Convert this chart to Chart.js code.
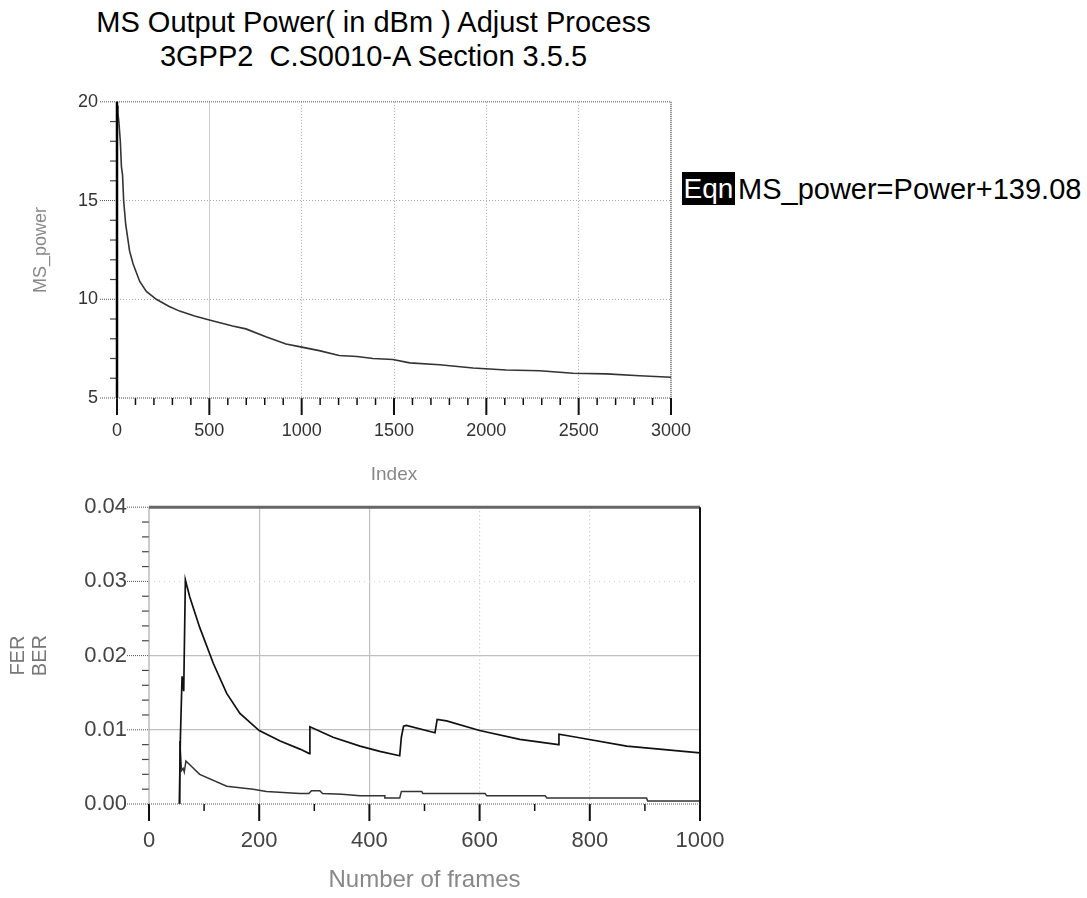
<!DOCTYPE html>
<html>
<head>
<meta charset="utf-8">
<script src="https://cdn.jsdelivr.net/npm/chart.js@4.4.1/dist/chart.umd.min.js"></script>
<style>
  body { margin: 0; background: #fff; width: 1087px; height: 898px; position: relative; overflow: hidden;
         font-family: 'Liberation Sans', Arial, sans-serif; }
  .t { position: absolute; left: 0; width: 747px; text-align: center; font-size: 29px; line-height: 29px;
       color: #000; white-space: pre; }
  canvas { position: absolute; left: 0; }
  #eqnBox { position: absolute; left: 682px; top: 172px; width: 53px; height: 33px; background: #000;
            color: #fff; font-size: 28px; line-height: 33px; text-align: center; }
  #eqnText { position: absolute; left: 738px; top: 175px; font-size: 29px; line-height: 29px; color: #000; white-space: pre; }
</style>
</head>
<body>
<div class="t" style="top:8px">MS Output Power( in dBm ) Adjust Process</div>
<div class="t" style="top:42px">3GPP2  C.S0010-A Section 3.5.5</div>
<div id="eqnBox">Eqn</div>
<div id="eqnText">MS_power=Power+139.08</div>
<canvas id="powerChart" width="720" height="428" style="top:72px"></canvas>
<canvas id="ferChart" width="760" height="426" style="top:472px"></canvas>
<script>
(() => {
  'use strict'

  // MS output power vs index (top plot)
  const powerIndex = [0, 5, 10, 18, 24, 30, 36, 47, 68, 87, 123, 159, 213, 280, 339, 420, 500, 626, 698, 806,
    915, 987, 1095, 1203, 1300, 1386, 1494, 1585, 1747, 1928, 2108, 2289, 2469, 2650, 2830, 3000];
  const powerValues = [19.8, 19.4, 19.0, 18.0, 16.7, 16.3, 15.0, 13.8, 12.45, 11.8, 10.9, 10.4, 10.0, 9.65, 9.4,
    9.15, 8.95, 8.65, 8.5, 8.1, 7.73, 7.6, 7.4, 7.15, 7.1, 7.0, 6.95, 6.78, 6.68, 6.52, 6.42, 6.38, 6.25, 6.22, 6.13, 6.05];

  // FER vs number of frames (bottom plot)
  const ferFrames = [55, 57, 60, 63, 66, 74, 92, 117, 141, 165, 200, 238, 274, 291, 292, 334, 383, 419, 455, 458,
    462, 467, 519, 523, 540, 600, 673, 743, 744, 776, 867, 1000];
  const ferValues = [0, 0.0090, 0.0172, 0.0152, 0.0302, 0.0279, 0.0238, 0.0189, 0.0149, 0.0122, 0.0099, 0.0085,
    0.0074, 0.0068, 0.0104, 0.0090, 0.0078, 0.0071, 0.0065, 0.0090, 0.0105, 0.0106, 0.0096, 0.0114, 0.0112,
    0.0099, 0.0087, 0.0080, 0.0094, 0.0090, 0.0078, 0.0069];

  // BER vs number of frames
  const berFrames = [55, 56, 59, 62, 64, 67, 92, 141, 189, 213, 274, 290, 295, 310, 315, 350, 383, 428, 428, 455,
    458, 495, 497, 610, 613, 719, 722, 903, 905, 1000];
  const berValues = [0, 0.0085, 0.0045, 0.0048, 0.0043, 0.0058, 0.0040, 0.0024, 0.0020, 0.0017, 0.0014, 0.0014,
    0.0018, 0.0018, 0.0014, 0.0013, 0.0011, 0.0011, 0.0008, 0.0008, 0.0017, 0.0017, 0.0014, 0.0014, 0.0011,
    0.0011, 0.0008, 0.0008, 0.0004, 0.0004];

  // tick labels
  const powerXTicks = [0, 500, 1000, 1500, 2000, 2500, 3000];
  const powerYTicks = [5, 10, 15, 20];
  const frameXTicks = [0, 200, 400, 600, 800, 1000];
  const ferYTicks = ['0.00', '0.01', '0.02', '0.03', '0.04'];

  const FONT = "'Liberation Sans', Arial, sans-serif";
  const toPoints = (xs, ys) => xs.map((x, i) => ({ x: x, y: ys[i] }));
  const near = (a, b) => Math.abs(a - b) < 1e-9;

  // minor/major tick marks and frame around the plot area
  const axisMarks = {
    id: 'axisMarks',
    afterDatasetsDraw(chart, args, o) {
      const { ctx, chartArea: a, scales: { x, y } } = chart;
      ctx.save();
      const nx = Math.round((x.max - x.min) / o.xMinor);
      for (let i = 0; i <= nx; i++) {
        const v = x.min + i * o.xMinor;
        const px = x.getPixelForValue(v);
        const major = near(v / o.xMajor, Math.round(v / o.xMajor));
        ctx.strokeStyle = '#111';
        ctx.lineWidth = major ? 2 : 1.5;
        ctx.setLineDash([]);
        ctx.beginPath();
        ctx.moveTo(px, a.bottom);
        ctx.lineTo(px, a.bottom + (major ? 17 : 7));
        ctx.stroke();
      }
      const ny = Math.round((y.max - y.min) / o.yMinor);
      for (let i = 0; i <= ny; i++) {
        const v = y.min + i * o.yMinor;
        const py = y.getPixelForValue(v);
        const major = near(v / o.yMajor, Math.round(v / o.yMajor));
        ctx.beginPath();
        if (major) {
          ctx.strokeStyle = '#555';
          ctx.lineWidth = 1;
          ctx.setLineDash([1, 1]);
          ctx.moveTo(a.left - o.yMajorLen, py);
        } else {
          ctx.strokeStyle = '#444';
          ctx.lineWidth = 1.2;
          ctx.setLineDash([]);
          ctx.moveTo(a.left - 7, py);
        }
        ctx.lineTo(a.left, py);
        ctx.stroke();
      }
      const sides = {
        top: [a.left, a.top, a.right, a.top],
        bottom: [a.left, a.bottom, a.right, a.bottom],
        left: [a.left, a.top, a.left, a.bottom],
        right: [a.right, a.top, a.right, a.bottom]
      };
      o.frame.forEach(f => {
        const s = sides[f.side];
        ctx.strokeStyle = f.color;
        ctx.lineWidth = f.width;
        ctx.setLineDash(f.dash || []);
        ctx.beginPath();
        ctx.moveTo(s[0], s[1]);
        ctx.lineTo(s[2], s[3]);
        ctx.stroke();
      });
      ctx.restore();
    }
  };

  // top plot
  new Chart(document.getElementById('powerChart'), {
    type: 'line',
    data: {
      datasets: [{
        label: 'MS_power',
        data: toPoints(powerIndex, powerValues),
        borderColor: '#333',
        borderWidth: 1.6,
        pointRadius: 0,
        tension: 0
      }]
    },
    options: {
      responsive: false,
      animation: false,
      devicePixelRatio: 1,
      layout: { padding: { top: 0, right: 49, left: 0, bottom: 0 } },
      plugins: {
        legend: { display: false },
        tooltip: { enabled: false },
        axisMarks: {
          xMinor: 100, xMajor: 500, yMinor: 1, yMajor: 5, yMajorLen: 17,
          frame: [
            { side: 'top', color: '#555', width: 1, dash: [1, 1] },
            { side: 'right', color: '#555', width: 1.5, dash: [1, 1] },
            { side: 'bottom', color: '#444', width: 1, dash: [1, 1] },
            { side: 'left', color: '#000', width: 2.5 }
          ]
        }
      },
      scales: {
        x: {
          type: 'linear',
          min: 0, max: 3000,
          afterFit: s => { s.height = 102; },
          afterBuildTicks: s => { s.ticks = powerXTicks.map(v => ({ value: v })); },
          ticks: { color: '#333', padding: 22, maxRotation: 0, autoSkip: false,
                   font: { family: FONT, size: 18 }, callback: v => String(v) },
          grid: {
            drawTicks: false,
            color: c => (c.tick && (c.tick.value === 0 || c.tick.value === 3000)) ? 'rgba(0,0,0,0)'
              : (c.tick && c.tick.value === 500 ? '#cfcfcf' : '#a8a8a8'),
            lineWidth: 1
          },
          border: { display: false, dash: c => (c.tick && c.tick.value === 500) ? [] : [1, 2] },
          title: { display: true, text: 'Index', color: '#888', font: { family: FONT, size: 19 },
                   padding: { top: 0, bottom: 14 } }
        },
        y: {
          min: 5, max: 20,
          afterFit: s => { s.width = 117; },
          afterBuildTicks: s => { s.ticks = powerYTicks.map(v => ({ value: v })); },
          ticks: { color: '#333', padding: 19, font: { family: FONT, size: 18 }, callback: v => String(v) },
          grid: {
            drawTicks: false,
            color: c => (c.tick && (c.tick.value === 5 || c.tick.value === 20)) ? 'rgba(0,0,0,0)' : '#a8a8a8',
            lineWidth: 1
          },
          border: { display: false, dash: [1, 2] },
          title: { display: true, text: 'MS_power', color: '#888', font: { family: FONT, size: 18 },
                   padding: { top: 30, bottom: 0 } }
        }
      }
    },
    plugins: [axisMarks]
  });

  // bottom plot
  new Chart(document.getElementById('ferChart'), {
    type: 'line',
    data: {
      datasets: [{
        label: 'FER',
        data: toPoints(ferFrames, ferValues),
        borderColor: '#111',
        borderWidth: 1.7,
        pointRadius: 0,
        tension: 0
      }, {
        label: 'BER',
        data: toPoints(berFrames, berValues),
        borderColor: '#333',
        borderWidth: 1.5,
        pointRadius: 0,
        tension: 0
      }]
    },
    options: {
      responsive: false,
      animation: false,
      devicePixelRatio: 1,
      layout: { padding: { top: 0, right: 60, left: 0, bottom: 0 } },
      plugins: {
        legend: { display: false },
        tooltip: { enabled: false },
        axisMarks: {
          xMinor: 100, xMajor: 200, yMinor: 0.002, yMajor: 0.01, yMajorLen: 22,
          frame: [
            { side: 'left', color: '#999', width: 1 },
            { side: 'bottom', color: '#555', width: 1, dash: [1, 1] },
            { side: 'top', color: '#666', width: 3 },
            { side: 'right', color: '#111', width: 2 }
          ]
        }
      },
      scales: {
        x: {
          type: 'linear',
          min: 0, max: 1000,
          afterFit: s => { s.height = 94; },
          afterBuildTicks: s => { s.ticks = frameXTicks.map(v => ({ value: v })); },
          ticks: { color: '#444', padding: 24, maxRotation: 0, autoSkip: false,
                   font: { family: FONT, size: 22 }, callback: v => String(v) },
          grid: {
            drawTicks: false,
            color: c => (c.tick && (c.tick.value === 0 || c.tick.value === 1000)) ? 'rgba(0,0,0,0)' : '#c0c0c0',
            lineWidth: 1.2
          },
          border: { display: false, dash: c => (c.tick && c.tick.value >= 600) ? [1, 3] : [] },
          title: { display: true, text: 'Number of frames', color: '#888', font: { family: FONT, size: 24 },
                   padding: { top: 0, bottom: 3 } }
        },
        y: {
          min: 0, max: 0.04,
          afterFit: s => { s.width = 149; },
          afterBuildTicks: s => { s.ticks = ferYTicks.map(v => ({ value: Number(v) })); },
          ticks: { color: '#444', padding: 22, font: { family: FONT, size: 22 },
                   callback: (v, i) => ferYTicks[i] },
          grid: {
            drawTicks: false,
            color: c => {
              const k = c.tick ? Math.round(c.tick.value * 100) : -1;
              if (k === 0 || k === 4) return 'rgba(0,0,0,0)';
              return k === 3 ? '#d6d6d6' : '#c0c0c0';
            },
            lineWidth: 1.3
          },
          border: { display: false, dash: c => (c.tick && Math.round(c.tick.value * 100) === 3) ? [1, 4] : [] },
          title: { display: true, text: ['FER', 'BER'], color: '#777',
                   font: { family: FONT, size: 20, lineHeight: 1.125 }, padding: { top: 7, bottom: 0 } }
        }
      }
    },
    plugins: [axisMarks]
  });
})()
</script>
</body>
</html>
